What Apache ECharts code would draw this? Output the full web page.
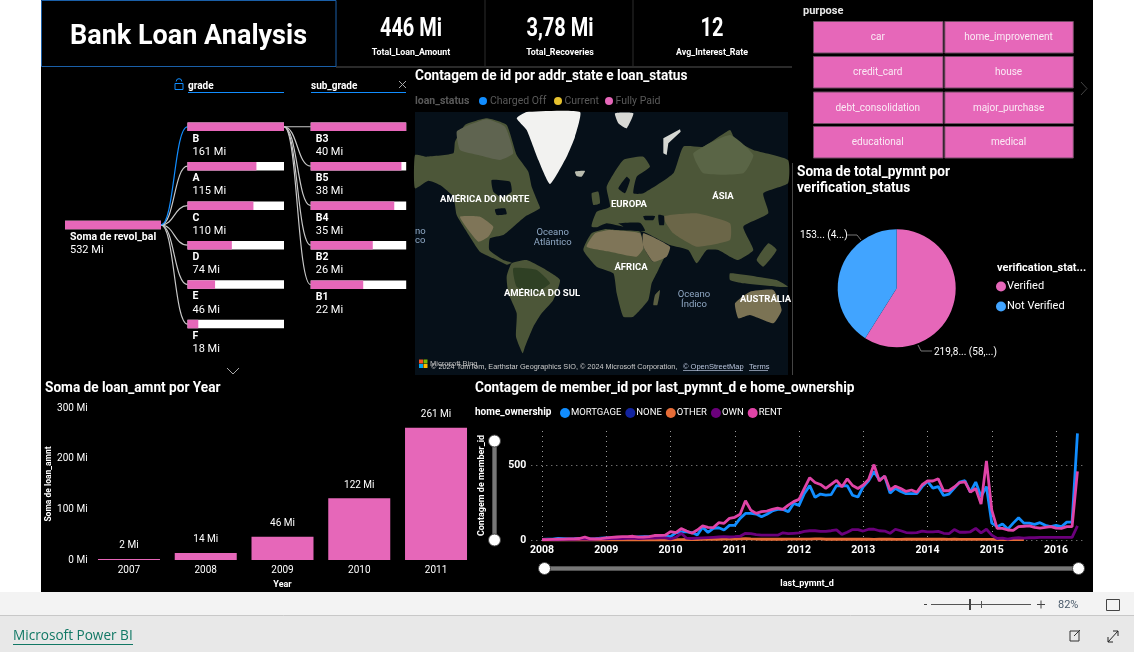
<!DOCTYPE html>
<html>
<head>
<meta charset="utf-8">
<title>Bank Loan Analysis</title>
<script src="https://cdn.jsdelivr.net/npm/echarts@6/dist/echarts.min.js"></script>
<style>
	html, body { margin: 0; padding: 0; background: #fff; overflow: hidden; }
	#main { width: 1134px; height: 652px; }
</style>
</head>
<body>
<div id="main"></div>
<script>
// decomposition tree
var grades = ['B', 'A', 'C', 'D', 'E', 'F'];
var gradeValues = [161, 115, 110, 74, 46, 18];
var subGrades = ['B3', 'B5', 'B4', 'B2', 'B1'];
var subGradeValues = [40, 38, 35, 26, 22];
var rootName = 'Soma de revol_bal';
var rootValue = 532;

// loan amount per year
var years = ['2007', '2008', '2009', '2010', '2011'];
var loanAmounts = [2, 14, 46, 122, 261];

// verification pie
var verifyNames = ['Verified', 'Not Verified'];
var verifyValues = [219.8, 153];
var verifyLabels = ['219,8... (58,...)', '153... (4...)'];

// slicer and kpi
var purposes = ['car', 'home_improvement', 'credit_card', 'house', 'debt_consolidation', 'major_purchase', 'educational', 'medical'];
var kpiValues = ['446 Mi', '3,78 Mi', '12'];
var kpiNames = ['Total_Loan_Amount', 'Total_Recoveries', 'Avg_Interest_Rate'];

// monthly counts, first value is 2008-01, last is 2016-05
var mortgage = [
	4, 5, 6, 10, 9, 8, 9, 11, 10, 8, 9, 12,
	14, 14, 15, 15, 16, 18, 20, 22, 23, 20, 22, 25,
	22, 48, 55, 55, 50, 33, 85, 51, 78, 82, 67, 98,
	98, 145, 178, 178, 174, 156, 172, 194, 205, 205, 190, 245,
	232, 312, 364, 285, 308, 300, 304, 364, 362, 364, 300, 288,
	357, 397, 458, 403, 426, 314, 347, 325, 310, 310, 310, 358,
	392, 347, 358, 298, 307, 347, 388, 397, 320, 388, 291, 358,
	113, 89, 107, 73, 113, 149, 113, 113, 105, 116, 98, 89,
	98, 89, 120, 120, 714
];
var none = [3, 2, 1, 1, 1, 1, 1, 1, 1, 1, 1, 1];
var other = [
	0, 0, 0, 0, 0, 0, 0, 0, 0, 0, 0, 0,
	0, 0, 0, 0, 0, 0, 0, 0, 0, 0, 0, 0,
	1, 2, 3, 4, 3, 3, 4, 4, 5, 5, 6, 6,
	6, 8, 9, 7, 6, 5, 5, 5, 5, 5, 6, 6,
	6, 6, 6, 7, 7, 5, 6, 5, 5, 5, 5, 5,
	5, 5, 4, 5, 5, 5, 4, 4, 5, 5, 5, 5,
	5, 5, 5, 5, 4, 5, 4, 4, 4, 4, 4, 4,
	4, 3, 3, 3, 3, 3, 2
];
var own = [
	1, 2, 3, 3, 4, 5, 5, 6, 7, 5, 6, 7,
	8, 9, 10, 10, 11, 12, 10, 11, 12, 13, 14, 15,
	8, 18, 45, 12, 10, 12, 14, 16, 18, 20, 22, 20,
	22, 25, 45, 42, 36, 33, 32, 32, 32, 48, 42, 45,
	48, 58, 62, 62, 58, 58, 62, 68, 38, 52, 70, 70,
	60, 72, 72, 62, 60, 45, 72, 62, 50, 48, 50, 60,
	55, 55, 58, 45, 42, 70, 52, 52, 55, 78, 48, 72,
	33, 10, 12, 6, 12, 15, 12, 15, 15, 18, 18, 18,
	18, 18, 18, 18, 95
];
var rent = [
	2, 3, 4, 5, 6, 8, 8, 10, 20, 8, 8, 9,
	14, 17, 20, 22, 22, 25, 19, 20, 22, 30, 31, 32,
	56, 49, 76, 60, 45, 67, 94, 85, 83, 116, 112, 145,
	152, 172, 263, 200, 178, 190, 194, 205, 214, 205, 234, 257,
	272, 346, 417, 385, 372, 345, 372, 400, 355, 410, 365, 345,
	368, 406, 505, 395, 428, 335, 360, 345, 325, 335, 320, 370,
	395, 395, 410, 330, 330, 355, 385, 390, 320, 345, 240, 530,
	200, 78, 78, 67, 65, 89, 92, 95, 85, 80, 85, 90,
	80, 78, 90, 90, 460
];

var PINK = '#e667b9';
var BLUE = '#118dff';
var TITLE_FONT = 'Roboto, "Noto Sans", sans-serif';

// two empty months before 2008 and one after the last point leave the axis margin
var months = ['2007-11', '2007-12'];
for(var y = 2008; y <= 2016; y++) {
	for(var m = 1; m <= 12; m++) {
		if(y === 2016 && m > 6) break;
		months.push(y + '-' + (m < 10 ? '0' + m : m));
	}
}

function padMonths(arr) {
	return [null, null].concat(arr);
}

function isYearStart(index, value) {
	return value.slice(5) === '01';
}

function txt(x, y, text, size, color, weight, align, font, scaleX) {
	return {
		type: 'text',
		x: x,
		y: y + 1.5,
		scaleX: scaleX || 1,
		silent: true,
		style: {
			text: text,
			fill: color || '#fff',
			font: (weight || 'normal') + ' ' + size + 'px ' + (font || TITLE_FONT),
			textAlign: align || 'left',
			textVerticalAlign: 'middle'
		}
	};
}

function title(x, y, text) {
	return txt(x, y, text, 14.5, '#fff', 'bold', 'left', null, 0.94);
}

function box(x, y, w, h, fill, stroke) {
	return {
		type: 'rect',
		silent: true,
		shape: { x: x, y: y, width: w, height: h },
		style: { fill: fill || 'transparent', stroke: stroke || null, lineWidth: stroke ? 1 : 0 }
	};
}

function seg(x1, y1, x2, y2, color, width) {
	return {
		type: 'line',
		silent: true,
		shape: { x1: x1, y1: y1, x2: x2, y2: y2 },
		style: { stroke: color, lineWidth: width || 1 }
	};
}

function dot(x, y, r, color) {
	return {
		type: 'circle',
		silent: true,
		shape: { cx: x, cy: y, r: r },
		style: { fill: color }
	};
}

function poly(points, fill, smooth) {
	return {
		type: 'polygon',
		silent: true,
		shape: { points: points, smooth: smooth === undefined ? 0.15 : smooth },
		style: { fill: fill }
	};
}

function chevron(points, color) {
	return {
		type: 'polyline',
		silent: true,
		shape: { points: points },
		style: { stroke: color, lineWidth: 1, fill: null }
	};
}

function treeSeries(names, values, xi, yi) {
	return {
		type: 'bar',
		xAxisIndex: xi,
		yAxisIndex: yi,
		barWidth: 8.5,
		showBackground: true,
		backgroundStyle: { color: '#fff' },
		itemStyle: { color: PINK },
		label: {
			show: true,
			position: [5, 10],
			color: '#fff',
			formatter: function(p) {
				return '{n|' + names[p.dataIndex] + '}\n{v|' + p.value + ' Mi}';
			},
			rich: {
				n: { color: '#fff', fontSize: 10.5, fontWeight: 'bold', fontFamily: TITLE_FONT, lineHeight: 13 },
				v: { color: '#fff', fontSize: 11, fontFamily: TITLE_FONT, lineHeight: 13 }
			}
		},
		data: values
	};
}

function lineSeries(name, values, color) {
	return {
		name: name,
		type: 'line',
		xAxisIndex: 4,
		yAxisIndex: 4,
		showSymbol: false,
		connectNulls: false,
		itemStyle: { color: color },
		lineStyle: { color: color, width: 2.8 },
		data: padMonths(values)
	};
}

function hiddenValueAxis(max, gridIndex) {
	return { type: 'value', gridIndex: gridIndex, show: false, min: 0, max: max };
}

function hiddenCatAxis(names, gridIndex) {
	return { type: 'category', gridIndex: gridIndex, show: false, inverse: true, data: names };
}

var chart = echarts.init(document.getElementById('main'));

chart.setOption({
	animation: false,
	backgroundColor: 'transparent',
	textStyle: { fontFamily: TITLE_FONT },
	grid: [
		{ left: 65, width: 96, top: 205.3, height: 39.4 },
		{ left: 187.5, width: 96.5, top: 107, height: 236.8 },
		{ left: 310.7, width: 95.5, top: 107, height: 197.4 },
		{ left: 90.6, width: 383.8, top: 408, height: 152 },
		{ left: 531.3, width: 551.5, top: 431, height: 109 }
	],
	xAxis: [
		hiddenValueAxis(rootValue, 0),
		hiddenValueAxis(gradeValues[0], 1),
		hiddenValueAxis(subGradeValues[0], 2),
		{
			type: 'category',
			gridIndex: 3,
			data: years,
			name: 'Year',
			nameLocation: 'middle',
			nameGap: 20,
			nameTextStyle: { color: '#fff', fontSize: 9, fontWeight: 'bold' },
			axisLine: { show: false },
			axisTick: { show: false },
			axisLabel: { color: '#fff', fontSize: 10, margin: 5 }
		},
		{
			type: 'category',
			gridIndex: 4,
			data: months,
			boundaryGap: false,
			name: 'last_pymnt_d',
			nameLocation: 'middle',
			nameGap: 39,
			nameTextStyle: { color: '#fff', fontSize: 9, fontWeight: 'bold' },
			axisLine: { show: false },
			axisTick: { show: false },
			axisLabel: {
				color: '#fff',
				fontSize: 10.5,
				fontWeight: 'bold',
				margin: 5,
				interval: isYearStart,
				formatter: function(v) {
					return v.slice(0, 4);
				}
			},
			splitLine: {
				show: true,
				interval: isYearStart,
				lineStyle: { color: '#9a9a9a', type: [1, 4] }
			}
		}
	],
	yAxis: [
		hiddenCatAxis([rootName], 0),
		hiddenCatAxis(grades, 1),
		hiddenCatAxis(subGrades, 2),
		{
			type: 'value',
			gridIndex: 3,
			min: 0,
			max: 300,
			interval: 100,
			name: 'Soma de loan_amnt',
			nameLocation: 'middle',
			nameGap: 35,
			nameTextStyle: { color: '#fff', fontSize: 8.5, fontWeight: 'bold' },
			splitLine: { show: false },
			axisLabel: { color: '#fff', fontSize: 10, margin: 3, formatter: '{value} Mi' }
		},
		{
			type: 'value',
			gridIndex: 4,
			min: 0,
			max: 730,
			interval: 500,
			name: 'Contagem de member_id',
			nameLocation: 'middle',
			nameGap: 45,
			nameTextStyle: { color: '#fff', fontSize: 9, fontWeight: 'bold' },
			axisLabel: { color: '#fff', fontSize: 10.5, fontWeight: 'bold', margin: 5, showMaxLabel: false },
			splitLine: { show: true, showMaxLine: false, lineStyle: { color: '#9a9a9a', type: [1, 4] } }
		}
	],
	dataZoom: [
		{
			type: 'slider',
			xAxisIndex: 4,
			filterMode: 'none',
			left: 542,
			width: 536,
			top: 566.5,
			height: 4,
			showDetail: false,
			showDataShadow: false,
			brushSelect: false,
			backgroundColor: '#555',
			fillerColor: '#777',
			borderColor: 'transparent',
			handleIcon: 'circle',
			handleSize: 12,
			handleStyle: { color: '#fff', borderColor: '#444' },
			moveHandleSize: 0
		},
		{
			type: 'slider',
			yAxisIndex: 4,
			filterMode: 'none',
			orient: 'vertical',
			left: 492,
			width: 4,
			top: 440,
			height: 101,
			showDetail: false,
			showDataShadow: false,
			brushSelect: false,
			backgroundColor: '#555',
			fillerColor: '#777',
			borderColor: 'transparent',
			handleIcon: 'circle',
			handleSize: 12,
			handleStyle: { color: '#fff', borderColor: '#444' },
			moveHandleSize: 0
		}
	],
	legend: [
		{
			left: 555,
			top: 403,
			itemWidth: 10,
			itemHeight: 10,
			itemGap: 4,
			icon: 'circle',
			selectedMode: false,
			textStyle: { color: '#fff', fontSize: 9.5, padding: [0, 0, 0, -4] },
			data: ['MORTGAGE', 'NONE', 'OTHER', 'OWN', 'RENT']
		},
		{
			orient: 'vertical',
			left: 991,
			top: 276,
			itemWidth: 10,
			itemHeight: 10,
			itemGap: 9,
			icon: 'circle',
			selectedMode: false,
			textStyle: { color: '#fff', fontSize: 11, padding: [0, 0, 0, -4] },
			data: verifyNames
		}
	],
	series: [
		treeSeries([rootName], [rootValue], 0, 0),
		treeSeries(grades, gradeValues, 1, 1),
		treeSeries(subGrades, subGradeValues, 2, 2),
		{
			type: 'bar',
			xAxisIndex: 3,
			yAxisIndex: 3,
			barWidth: 62,
			itemStyle: { color: PINK },
			label: {
				show: true,
				position: 'top',
				distance: 8,
				color: '#fff',
				fontSize: 10,
				formatter: '{c} Mi'
			},
			data: loanAmounts
		},
		lineSeries('MORTGAGE', mortgage, BLUE),
		lineSeries('NONE', none, '#12239e'),
		lineSeries('OTHER', other, '#e66c37'),
		lineSeries('OWN', own, '#6b007b'),
		lineSeries('RENT', rent, '#e044a7'),
		{
			type: 'pie',
			center: [896.7, 288.3],
			radius: 59,
			startAngle: 90,
			clockwise: true,
			itemStyle: { borderWidth: 0 },
			label: {
				color: '#fff',
				fontSize: 10,
				formatter: function(p) {
					return verifyLabels[p.dataIndex];
				}
			},
			labelLine: {
				lineStyle: { color: '#777', width: 1 }
			},
			labelLayout: function(p) {
				if(p.dataIndex === 0) {
					return {
						x: 934,
						y: 352,
						align: 'left',
						verticalAlign: 'middle',
						labelLinePoints: [[918, 345], [921, 351], [932, 351]]
					};
				}
				return {
					x: 800,
					y: 235.5,
					align: 'left',
					verticalAlign: 'middle',
					labelLinePoints: [[847, 235], [857, 235], [861, 240]]
				};
			},
			data: [
				{ name: verifyNames[0], value: verifyValues[0], itemStyle: { color: PINK } },
				{ name: verifyNames[1], value: verifyValues[1], itemStyle: { color: '#41a4ff' } }
			]
		}
	]
});

// curved links of the tree need the pixel rows of the bars
function link(x1, y1, x2, y2, color) {
	var mid = (x1 + x2) / 2;
	return {
		type: 'bezierCurve',
		silent: true,
		shape: { x1: x1, y1: y1, cpx1: mid, cpy1: y1, cpx2: mid, cpy2: y2, x2: x2, y2: y2 },
		style: { stroke: color, lineWidth: 1.2, fill: null }
	};
}

function buildLinks() {
	var out = [];
	var rootY = chart.convertToPixel({ yAxisIndex: 0 }, rootName);
	var gradeY = chart.convertToPixel({ yAxisIndex: 1 }, grades[0]);
	grades.forEach(function(g, i) {
		var yy = chart.convertToPixel({ yAxisIndex: 1 }, g);
		if(i > 0) out.push(link(161, rootY, 187.5, yy, '#c8c8c8'));
	});
	subGrades.forEach(function(g) {
		var yy = chart.convertToPixel({ yAxisIndex: 2 }, g);
		out.push(link(284, gradeY, 310.7, yy, '#c8c8c8'));
	});
	out.push(link(161, rootY, 187.5, gradeY, BLUE));
	return out;
}

// rough map backdrop, outlines in 3x crop units
function mapGroup() {
	var land = '#4c5638';
	var dry = '#7f7558';
	var wet = '#2f4024';
	var tundra = '#5f6450';
	var sea = '#061019';
	var polys = [
		// north america
		poly([[15,285],[50,290],[130,280],[135,245],[165,195],[230,175],[290,195],[320,285],[355,335],[365,380],[385,430],[390,445],[345,470],[310,500],[280,525],[240,535],[238,570],[280,600],[305,608],[290,614],[250,595],[210,575],[170,515],[140,465],[130,410],[90,375],[55,362],[15,385]], land),
		poly([[140,215],[170,198],[230,178],[285,200],[310,280],[270,300],[205,285],[150,270]], tundra),
		poly([[245,360],[300,365],[305,395],[275,412],[250,395]], sea),
		poly([[150,470],[210,470],[250,500],[235,530],[205,545],[175,510]], dry),
		poly([[255,448],[285,445],[290,462],[260,465]], sea),
		// greenland
		poly([[320,175],[350,156],[510,156],[495,230],[470,290],[420,372],[385,300],[350,210]], '#f2f2f0'),
		poly([[495,335],[525,333],[515,350],[500,348]], '#b9bcae'),
		// south america
		poly([[305,610],[350,600],[400,625],[450,660],[430,720],[395,760],[370,800],[345,860],[338,880],[318,830],[320,760],[295,700],[290,650]], land),
		poly([[310,625],[380,630],[420,670],[370,700],[320,680]], wet),
		// africa
		poly([[520,570],[545,520],[600,505],[690,515],[700,560],[730,605],[775,565],[745,630],[725,670],[715,720],[670,770],[640,770],[620,700],[610,640],[560,620]], land),
		poly([[530,560],[555,520],[600,510],[690,520],[700,565],[680,590],[600,575]], dry),
		poly([[735,705],[750,690],[742,735],[730,735]], '#5b5f42'),
		// eurasia
		poly([[545,500],[560,455],[600,440],[590,380],[640,300],[700,290],[720,320],[680,350],[670,400],[700,400],[790,340],[820,260],[880,260],[960,210],[975,240],[1030,270],[1134,300],[1134,370],[1060,400],[1075,460],[1000,500],[1030,570],[985,600],[960,590],[925,570],[890,570],[860,610],[835,570],[780,555],[700,515],[610,500]], land),
		poly([[700,520],[780,560],[770,590],[730,605],[700,560]], dry),
		poly([[760,470],[860,460],[960,490],[960,540],[860,560],[790,520]], '#6b6648'),
		poly([[850,280],[960,225],[1030,285],[1000,340],[880,340]], '#5a6546'),
		poly([[640,500],[625,490],[690,488],[705,512],[620,510],[562,503],[590,490]], sea),
		poly([[745,465],[762,468],[762,495],[748,495]], sea),
		poly([[700,468],[735,468],[730,480],[705,480]], sea),
		poly([[625,385],[650,350],[660,360],[645,400]], sea),
		poly([[545,400],[565,395],[570,430],[550,435]], land),
		poly([[1075,550],[1100,570],[1060,620],[1040,600]], land),
		// islands and australia
		poly([[960,640],[1040,650],[1100,660],[1134,680],[1100,680],[1000,670],[960,660]], land),
		poly([[975,730],[1020,695],[1090,690],[1115,750],[1090,790],[1020,765],[985,775]], '#7b7354'),
		poly([[760,235],[810,208],[812,215],[775,250],[770,285],[760,280]], '#d5d7d2', 0),
		poly([[615,160],[670,160],[650,205],[625,190]], '#d8d8d4')
	];
	return {
		type: 'group',
		x: 410,
		y: 60,
		scaleX: 1 / 3,
		scaleY: 1 / 3,
		silent: true,
		children: polys
	};
}

function buildGraphic() {
	var black = box(41, 0, 1052, 592, '#000');
	black.z = -1;
	var els = [
		// page parts
		black,
		box(0, 592, 1134, 23, '#f3f3f3'),
		box(0, 615, 1134, 37, '#e8e8e8'),
		seg(0, 615.5, 1134, 615.5, '#c8c8c8'),
		// header
		box(41.5, 0.5, 294.5, 66, null, '#1a5fa8'),
		seg(336, 67, 792, 67, '#555'),
		seg(485, 0, 485, 66, '#2c2c2c'),
		seg(633, 0, 633, 66, '#2c2c2c'),
		txt(188.5, 36, 'Bank Loan Analysis', 27, '#fff', 'bold', 'center'),
		seg(792.5, 163, 792.5, 375, '#444'),
		// tree headers
		txt(188, 85, 'grade', 10, '#fff', 'bold'),
		seg(188, 92.5, 284, 92.5, BLUE),
		txt(311, 85, 'sub_grade', 10, '#fff', 'bold'),
		seg(311, 92.5, 406, 92.5, BLUE),
		box(175, 83.5, 8, 6, null, BLUE),
		{
			type: 'arc',
			silent: true,
			shape: { cx: 179, cy: 81.5, r: 2.8, startAngle: Math.PI, endAngle: 0 },
			style: { stroke: BLUE, lineWidth: 1, fill: null }
		},
		seg(399, 81, 406, 88, '#aaa'),
		seg(406, 81, 399, 88, '#aaa'),
		chevron([[227, 368], [233, 374], [239, 368]], '#aaa'),
		chevron([[1081, 82], [1087, 88.5], [1081, 95]], '#444'),
		// chart titles
		title(415, 75, 'Contagem de id por addr_state e loan_status'),
		title(45, 387, 'Soma de loan_amnt por Year'),
		title(475, 387, 'Contagem de member_id por last_pymnt_d e home_ownership'),
		title(797, 171, 'Soma de total_pymnt por'),
		title(797, 187, 'verification_status'),
		txt(475, 411, 'home_ownership', 10, '#fff', 'bold'),
		txt(997, 267, 'verification_stat...', 11, '#fff', 'bold'),
		txt(803, 10, 'purpose', 11, '#e8e8e8', 'bold'),
		// map legend
		txt(415, 100, 'loan_status', 10.5, '#5a5a5a', 'bold'),
		dot(483, 101, 4, BLUE),
		txt(490, 100, 'Charged Off', 10.5, '#5a5a5a'),
		dot(558, 101, 4, '#e6c12e'),
		txt(564.5, 100, 'Current', 10.5, '#5a5a5a'),
		dot(609, 101, 4, PINK),
		txt(615.5, 100, 'Fully Paid', 10.5, '#5a5a5a'),
		// map
		box(415, 112, 373, 263, '#061019'),
		mapGroup(),
		txt(484.7, 198, 'AMÉRICA DO NORTE', 9.5, '#fff', 'bold', 'center'),
		txt(629, 203, 'EUROPA', 9.5, '#fff', 'bold', 'center'),
		txt(723, 195, 'ÁSIA', 9.5, '#fff', 'bold', 'center'),
		txt(631, 265.7, 'ÁFRICA', 9.5, '#fff', 'bold', 'center'),
		txt(542, 291.7, 'AMÉRICA DO SUL', 9.5, '#fff', 'bold', 'center'),
		txt(740, 298, 'AUSTRÁLIA', 9.5, '#fff', 'bold'),
		txt(552.7, 230.7, 'Oceano', 9.5, '#8fa8c4', 'normal', 'center'),
		txt(552.7, 240.7, 'Atlântico', 9.5, '#8fa8c4', 'normal', 'center'),
		txt(694, 293, 'Oceano', 9.5, '#8fa8c4', 'normal', 'center'),
		txt(694, 303, 'Índico', 9.5, '#8fa8c4', 'normal', 'center'),
		txt(415, 229.7, 'no', 9.5, '#8fa8c4'),
		txt(415, 239.5, 'co', 9.5, '#8fa8c4'),
		box(419, 359.5, 4, 4, '#f25022'),
		box(423.5, 359.5, 4, 4, '#7fba00'),
		box(419, 364, 4, 4, '#00a4ef'),
		box(423.5, 364, 4, 4, '#ffb900'),
		txt(430, 362, 'Microsoft Bing', 7.5, '#bbb', 'normal', 'left', 'Liberation Sans'),
		txt(431, 365.5, '© 2024 TomTom, Earthstar Geographics SIO, © 2024 Microsoft Corporation,', 7.3, '#ccc', 'normal', 'left', 'Liberation Sans'),
		txt(683, 365.5, '© OpenStreetMap', 7.5, '#b8c4dc', 'normal', 'left', 'Liberation Sans'),
		seg(683, 370.5, 743, 370.5, '#b8c4dc', 0.7),
		txt(749, 365.5, 'Terms', 7.5, '#b8c4dc', 'normal', 'left', 'Liberation Sans'),
		seg(749, 370.5, 768, 370.5, '#b8c4dc', 0.7),
		// footer
		seg(924, 604.5, 927, 604.5, '#444'),
		seg(931, 604.5, 1031, 604.5, '#555'),
		box(969, 599, 2, 11, '#444'),
		seg(981.5, 601, 981.5, 608, '#555'),
		seg(1037, 604.5, 1045, 604.5, '#444'),
		seg(1041, 600.5, 1041, 608.5, '#444'),
		txt(1058, 603.5, '82%', 11, '#4a5a6a'),
		box(1106.5, 599.5, 13, 11, null, '#444'),
		txt(13, 634.5, 'Microsoft Power BI', 13.6, '#117865', 'normal', 'left', '"Open Sans"'),
		seg(13, 644.5, 133, 644.5, '#117865'),
		box(1070, 631, 9, 10, null, '#333'),
		seg(1074, 636, 1080, 630, '#333'),
		seg(1108, 642, 1118, 631, '#222'),
		seg(1113, 631, 1118, 631, '#222'),
		seg(1118, 631, 1118, 636, '#222'),
		seg(1108, 642, 1108, 637, '#222'),
		seg(1108, 642, 1113, 642, '#222')
	];

	// kpi cards
	var kpiX = [411, 560, 712];
	kpiValues.forEach(function(v, i) {
		els.push(txt(kpiX[i], 28.5, v, 25, '#fff', 'bold', 'center', null, 0.8));
		els.push(txt(kpiX[i], 51, kpiNames[i], 9.5, '#fff', 'bold', 'center', null, 0.93));
	});

	// purpose slicer buttons
	var cols = [813, 944.3];
	var colW = [129.5, 128.5];
	var rows = [21, 56, 91.5, 126];
	purposes.forEach(function(p, i) {
		var c = i % 2;
		var r = Math.floor(i / 2);
		els.push(box(cols[c] + 0.5, rows[r] + 0.5, colW[c], 31.5, PINK, '#6e4a62'));
		els.push(txt(cols[c] + colW[c] / 2, rows[r] + 15, p, 10, '#fbeaf5', 'normal', 'center'));
	});

	return els.concat(buildLinks());
}

chart.setOption({ graphic: { elements: buildGraphic() } });
</script>
</body>
</html>
